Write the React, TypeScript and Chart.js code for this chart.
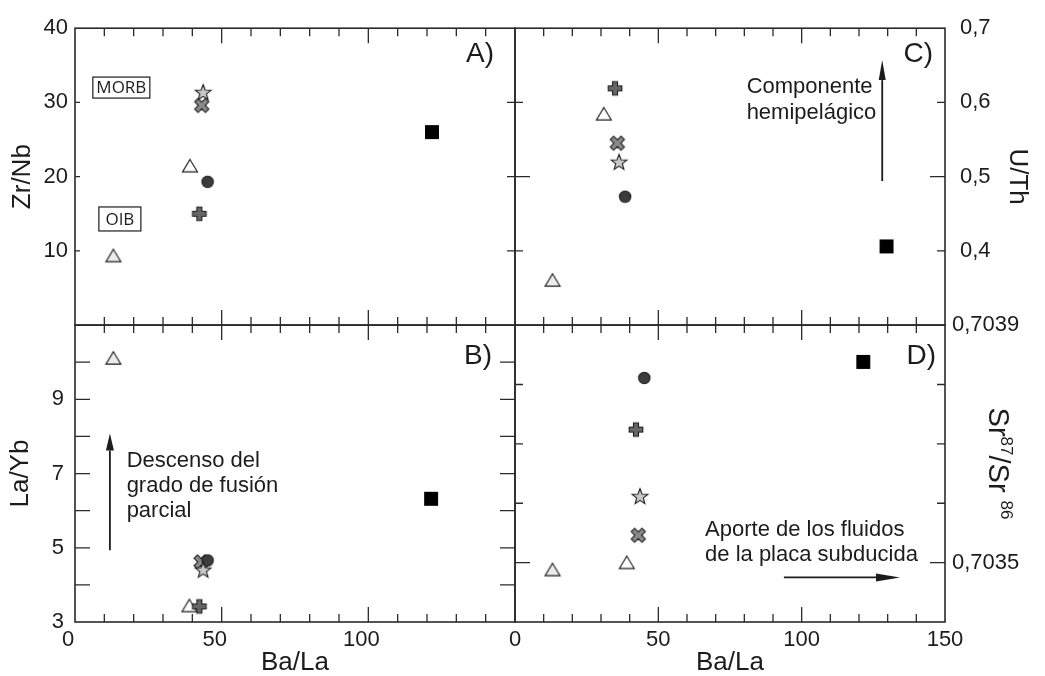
import React, { useEffect, useRef } from 'react';
import { Chart, registerables } from 'chart.js';

Chart.register(...registerables);

// Orden de las muestras (marcador por punto)
const sampleKinds = ['triLight', 'triWhite', 'plus', 'cross', 'circle', 'star', 'square'];

// Panel A: Ba/La vs Zr/Nb
const baLaA = [13.1, 39.2, 42.4, 43.2, 45.2, 43.7, 121.7];
const zrNb = [9.1, 21.2, 15.0, 29.6, 19.3, 31.4, 26.0];
// Panel B: Ba/La vs La/Yb
const baLaB = [13.1, 39.0, 42.4, 43.0, 45.2, 43.7, 121.4];
const laYb = [10.06, 3.39, 3.42, 4.62, 4.66, 4.41, 6.32];
// Panel C: Ba/La vs U/Th
const baLaC = [13.1, 31.0, 34.9, 35.7, 38.4, 36.3, 129.6];
const uTh = [0.358, 0.582, 0.619, 0.545, 0.473, 0.52, 0.406];
// Panel D: Ba/La vs Sr87/Sr86
const baLaD = [13.1, 39.0, 42.2, 43.0, 45.1, 43.6, 121.5];
const srSr = [0.703485, 0.703497, 0.703724, 0.703546, 0.703811, 0.703612, 0.703838];

// Tick labels
const baLaTicksLeft = [0, 50, 100];
const baLaTicksRight = [0, 50, 100, 150];
const zrNbTicks = [10, 20, 30, 40];
const laYbTicks = [3, 5, 7, 9];
const uThTicks = [0.4, 0.5, 0.6, 0.7];
const srTicks = [0.7035, 0.7039];

const FONT = '"Liberation Sans", Arial, Helvetica, sans-serif';
const INK = '#1c1c1c';

function makeMarker(kind: string): HTMLCanvasElement {
  const c = document.createElement('canvas');
  const S = 22;
  c.width = S;
  c.height = S;
  const g = c.getContext('2d') as CanvasRenderingContext2D;
  const m = S / 2;
  g.strokeStyle = '#1e1e1e';
  g.lineWidth = 1.1;
  g.lineJoin = 'miter';
  g.beginPath();
  const poly = (pts: number[][], rot: number) => {
    pts.forEach((p, i) => {
      const x = p[0] * Math.cos(rot) - p[1] * Math.sin(rot);
      const y = p[0] * Math.sin(rot) + p[1] * Math.cos(rot);
      if (i === 0) g.moveTo(m + x, m + y);
      else g.lineTo(m + x, m + y);
    });
    g.closePath();
  };
  const plusPts = (a: number, b: number) => [
    [-b, -a], [b, -a], [b, -b], [a, -b], [a, b], [b, b],
    [b, a], [-b, a], [-b, b], [-a, b], [-a, -b], [-b, -b],
  ];
  if (kind === 'triLight' || kind === 'triWhite') {
    const h = 12.5, w = 15;
    poly([[0, -2 * h / 3], [w / 2, h / 3], [-w / 2, h / 3]], 0);
    g.fillStyle = kind === 'triLight' ? '#ececec' : '#ffffff';
  } else if (kind === 'plus') {
    poly(plusPts(6.8, 2.5), 0);
    g.fillStyle = '#666666';
  } else if (kind === 'cross') {
    poly(plusPts(7.6, 2.4), Math.PI / 4);
    g.fillStyle = '#8a8a8a';
  } else if (kind === 'circle') {
    g.arc(m, m, 5.7, 0, Math.PI * 2);
    g.fillStyle = '#3c3c3c';
  } else if (kind === 'star') {
    const pts: number[][] = [];
    for (let i = 0; i < 10; i++) {
      const r = i % 2 === 0 ? 8.3 : 3.5;
      const a = -Math.PI / 2 + (i * Math.PI) / 5;
      pts.push([r * Math.cos(a), r * Math.sin(a) + 0.8]);
    }
    poly(pts, 0);
    g.fillStyle = '#c8c8c8';
  } else {
    g.rect(m - 6.4, m - 6.4, 12.8, 12.8);
    g.fillStyle = '#000000';
    g.strokeStyle = '#000000';
  }
  g.fill();
  g.stroke();
  return c;
}

const near = (list: number[], v: number) => list.some((t) => Math.abs(t - v) < 1e-9);
const comma = (v: number, d: number) => v.toFixed(d).replace('.', ',');

const framesPlugin = {
  id: 'framesPlugin',
  beforeDatasetsDraw(chart: any) {
    const ctx: CanvasRenderingContext2D = chart.ctx;
    const S = chart.scales;
    ctx.save();
    ctx.strokeStyle = '#2a2a2a';
    const panel = (xId: string, yId: string, yTicks: { v: number; l: number; r: number }[]) => {
      const xs = S[xId];
      const ys = S[yId];
      const L = xs.left, R = xs.right, T = ys.top, B = ys.bottom;
      ctx.lineWidth = 1.3;
      ctx.beginPath();
      for (let v = 10; v < 150; v += 10) {
        const p = xs.getPixelForValue(v);
        const len = v % 50 === 0 ? 15 : 8;
        ctx.moveTo(p, T);
        ctx.lineTo(p, T + len);
        ctx.moveTo(p, B);
        ctx.lineTo(p, B - len);
      }
      yTicks.forEach((t) => {
        const p = ys.getPixelForValue(t.v);
        if (t.l > 0) {
          ctx.moveTo(L, p);
          ctx.lineTo(L + t.l, p);
        }
        if (t.r > 0) {
          ctx.moveTo(R, p);
          ctx.lineTo(R - t.r, p);
        }
      });
      ctx.stroke();
      ctx.lineWidth = 1.6;
      ctx.strokeRect(L, T, R - L, B - T);
    };
    panel('xA', 'yA', [10, 20, 30].map((v) => ({ v, l: 5, r: 8 })));
    panel('xA', 'yB', [4, 5, 6, 7, 8, 9, 10].map((v) => ({ v, l: 15, r: 15 })));
    panel('xC', 'yC', [0.4, 0.5, 0.6].map((v) => ({ v, l: v === 0.5 ? 15 : 8, r: v === 0.5 ? 15 : 8 })));
    panel('xC', 'yD', [0.7035, 0.7036, 0.7037, 0.7038].map((v) => ({ v, l: v === 0.7035 ? 15 : 8, r: v === 0.7035 ? 15 : 8 })));
    ctx.restore();
  },
  afterDatasetsDraw(chart: any) {
    const ctx: CanvasRenderingContext2D = chart.ctx;
    const S = chart.scales;
    const X = (id: string, v: number) => S[id].getPixelForValue(v);
    ctx.save();
    ctx.fillStyle = INK;
    ctx.strokeStyle = INK;
    ctx.textBaseline = 'middle';

    // Panel letters
    ctx.font = `28px ${FONT}`;
    ctx.textAlign = 'right';
    ctx.fillText('A)', S.xA.right - 21, S.yA.top + 26);
    ctx.fillText('B)', S.xA.right - 23, S.yB.top + 31);
    ctx.fillText('C)', S.xC.right - 12, S.yC.top + 26);
    ctx.fillText('D)', S.xC.right - 9, S.yD.top + 31);

    // MORB / OIB boxes
    ctx.font = `17px "Open Sans", "Noto Sans", sans-serif`;
    ctx.textAlign = 'center';
    const boxed = (text: string, cx: number, cy: number, w: number, h: number) => {
      ctx.lineWidth = 1.2;
      ctx.strokeRect(cx - w / 2, cy - h / 2, w, h);
      ctx.fillText(text, cx, cy + 1);
    };
    boxed('MORB', X('xA', 15.8), X('yA', 32.0), 57, 21);
    boxed('OIB', X('xA', 15.3), X('yA', 14.3), 42, 24);

    // Annotations
    ctx.font = `22px ${FONT}`;
    ctx.textAlign = 'left';
    ctx.fillText('Componente', X('xC', 80.8), X('yC', 0.621));
    ctx.fillText('hemipelágico', X('xC', 80.8), X('yC', 0.586));
    ctx.fillText('Descenso del', X('xA', 17.6), X('yB', 7.35));
    ctx.fillText('grado de fusión', X('xA', 17.6), X('yB', 6.66));
    ctx.fillText('parcial', X('xA', 17.6), X('yB', 5.99));
    ctx.fillText('Aporte de los fluidos', X('xC', 66.3), X('yD', 0.7035555));
    ctx.fillText('de la placa subducida', X('xC', 66.3), X('yD', 0.7035128));

    const arrow = (x1: number, y1: number, x2: number, y2: number, hl: number, hw: number) => {
      const a = Math.atan2(y2 - y1, x2 - x1);
      const bx = x2 - hl * Math.cos(a);
      const by = y2 - hl * Math.sin(a);
      ctx.lineWidth = 1.8;
      ctx.beginPath();
      ctx.moveTo(x1, y1);
      ctx.lineTo(bx, by);
      ctx.stroke();
      ctx.beginPath();
      ctx.moveTo(x2, y2);
      ctx.lineTo(bx + hw * Math.sin(a), by - hw * Math.cos(a));
      ctx.lineTo(bx - hw * Math.sin(a), by + hw * Math.cos(a));
      ctx.closePath();
      ctx.fill();
    };
    arrow(X('xC', 128.1), X('yC', 0.494), X('xC', 128.1), X('yC', 0.657), 20, 3.5);
    arrow(X('xA', 11.9), X('yB', 4.93), X('xA', 11.9), X('yB', 8.08), 17, 4);
    arrow(X('xC', 93.8), X('yD', 0.703475), X('xC', 134.3), X('yD', 0.703475), 24, 4);

    // Sr87/Sr86 axis title (rotated)
    const yD = S.yD;
    ctx.translate(999, (yD.top + yD.bottom) / 2 - 10);
    ctx.rotate(Math.PI / 2);
    ctx.textAlign = 'left';
    ctx.textBaseline = 'alphabetic';
    const main = `29px ${FONT}`;
    const sup = `17px ${FONT}`;
    const parts: [string, string, number][] = [
      ['Sr', main, 0],
      ['87', sup, -12],
      ['/Sr', main, 0],
      [' ', main, 0],
      ['86', sup, -12],
    ];
    let total = 0;
    parts.forEach((p) => {
      ctx.font = p[1];
      total += ctx.measureText(p[0]).width;
    });
    let x = -total / 2;
    parts.forEach((p) => {
      ctx.font = p[1];
      ctx.fillText(p[0], x, 10.5 + p[2]);
      x += ctx.measureText(p[0]).width;
    });
    ctx.restore();
  },
};

export default function App() {
  const ref = useRef<HTMLCanvasElement>(null);
  useEffect(() => {
    const canvas = ref.current as HTMLCanvasElement;
    const styles = sampleKinds.map((k) => makeMarker(k));
    const pts = (xs: number[], ys: number[]) => xs.map((x, i) => ({ x, y: ys[i] }));
    const ds = (label: string, xs: number[], ys: number[], xId: string, yId: string) => ({
      label,
      data: pts(xs, ys),
      xAxisID: xId,
      yAxisID: yId,
      pointStyle: styles,
      pointRadius: 7,
      showLine: false,
      clip: false as any,
    });
    const tickFont = { family: FONT, size: 22 };
    const titleFont = { family: FONT, size: 26, lineHeight: 1 };
    const base = {
      type: 'linear' as const,
      grid: { display: false, drawTicks: false },
      border: { display: false },
    };
    const chart = new Chart(canvas, {
      type: 'scatter',
      data: {
        datasets: [
          ds('A', baLaA, zrNb, 'xA', 'yA'),
          ds('B', baLaB, laYb, 'xA', 'yB'),
          ds('C', baLaC, uTh, 'xC', 'yC'),
          ds('D', baLaD, srSr, 'xC', 'yD'),
        ] as any,
      },
      options: {
        animation: false,
        responsive: false,
        devicePixelRatio: 1,
        events: [],
        layout: { padding: { top: 21, left: 0, right: 0, bottom: 0 } },
        plugins: { legend: { display: false }, tooltip: { enabled: false } },
        scales: {
          xA: {
            ...base,
            axis: 'x',
            position: 'bottom',
            stack: 'bx',
            stackWeight: 440,
            weight: 0,
            min: 0,
            max: 150,
            ticks: {
              stepSize: 10,
              autoSkip: false,
              maxRotation: 0,
              padding: 5,
              labelOffset: -7,
              color: INK,
              font: tickFont,
              callback: (v: any) => (near(baLaTicksLeft, Number(v)) ? String(Math.round(Number(v))) : ''),
            },
            title: { display: true, text: 'Ba/La', color: INK, font: titleFont, padding: { top: 0, bottom: 0 } },
            afterFit: (s: any) => { s.height = 54; },
          },
          xC: {
            ...base,
            axis: 'x',
            position: 'bottom',
            stack: 'bx',
            stackWeight: 430,
            weight: 1,
            min: 0,
            max: 150,
            ticks: {
              stepSize: 10,
              autoSkip: false,
              maxRotation: 0,
              padding: 5,
              color: INK,
              font: tickFont,
              callback: (v: any) => (near(baLaTicksRight, Number(v)) ? String(Math.round(Number(v))) : ''),
            },
            title: { display: true, text: 'Ba/La', color: INK, font: titleFont, padding: { top: 0, bottom: 0 } },
            afterFit: (s: any) => { s.height = 54; },
          },
          yA: {
            ...base,
            axis: 'y',
            position: 'left',
            stack: 'l',
            stackWeight: 1,
            weight: 1,
            min: 0,
            max: 40,
            ticks: {
              stepSize: 10,
              autoSkip: false,
              padding: 7,
              color: INK,
              font: tickFont,
              callback: (v: any) => (near(zrNbTicks, Number(v)) ? String(Math.round(Number(v))) : ''),
            },
            title: { display: true, text: 'Zr/Nb', color: INK, font: titleFont, padding: { top: 9.5, bottom: 0 } },
            afterFit: (s: any) => { s.width = 75; },
          },
          yB: {
            ...base,
            axis: 'y',
            position: 'left',
            stack: 'l',
            stackWeight: 1,
            weight: 0,
            min: 3,
            max: 11,
            ticks: {
              stepSize: 1,
              autoSkip: false,
              padding: 11,
              color: INK,
              font: tickFont,
              callback: (v: any) => (near(laYbTicks, Number(v)) ? String(Math.round(Number(v))) : ''),
            },
            title: { display: true, text: 'La/Yb', color: INK, font: titleFont, padding: { top: 8, bottom: 0 } },
            afterFit: (s: any) => { s.width = 75; },
          },
          yC: {
            ...base,
            axis: 'y',
            position: 'right',
            stack: 'r',
            stackWeight: 1,
            weight: 0,
            min: 0.3,
            max: 0.7,
            ticks: {
              stepSize: 0.1,
              autoSkip: false,
              padding: 15,
              color: INK,
              font: tickFont,
              callback: (v: any) => (near(uThTicks, Number(Number(v).toFixed(4))) ? comma(Number(v), 1) : ''),
            },
            title: { display: true, text: 'U/Th', color: INK, font: titleFont, padding: { top: 14.5, bottom: 0 } },
            afterFit: (s: any) => { s.width = 100; },
          },
          yD: {
            ...base,
            axis: 'y',
            position: 'right',
            stack: 'r',
            stackWeight: 1,
            weight: 1,
            min: 0.7034,
            max: 0.7039,
            ticks: {
              stepSize: 0.0001,
              autoSkip: false,
              padding: 7,
              color: INK,
              font: tickFont,
              callback: (v: any) => (near(srTicks, Number(Number(v).toFixed(4))) ? comma(Number(v), 4) : ''),
            },
            title: { display: false },
            afterFit: (s: any) => { s.width = 100; },
          },
        } as any,
      },
      plugins: [framesPlugin],
    });
    return () => chart.destroy();
  }, []);
  return (
    <div style={{ position: 'absolute', left: 0, top: 0, width: 1045, height: 676, background: '#fff' }}>
      <canvas ref={ref} width={1045} height={676} style={{ display: 'block' }} />
    </div>
  );
}
